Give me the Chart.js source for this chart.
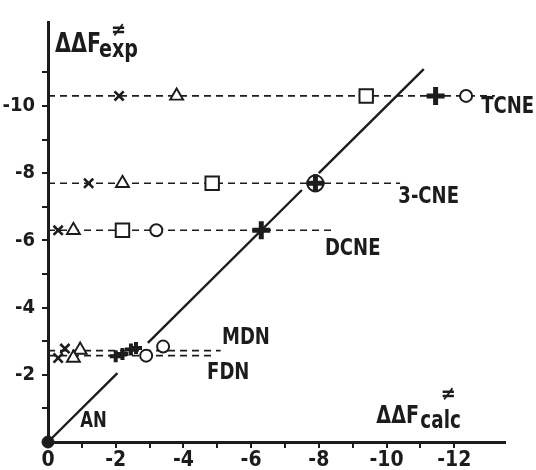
<!DOCTYPE html>
<html>
<head>
<meta charset="utf-8">
<script src="https://cdn.jsdelivr.net/npm/chart.js@4/dist/chart.umd.min.js"></script>
<style>
  html, body { margin: 0; padding: 0; background: #fff; }
  #wrap { width: 536px; height: 470px; }
</style>
</head>
<body>
<div id="wrap"><canvas id="chart" width="536" height="470"></canvas></div>
<script>
// Rows (acceptor molecules) and the level of their dashed line
const rowNames = ['TCNE', '3-CNE', 'DCNE', 'MDN', 'FDN'];
const rowExp = [-10.3, -7.7, -6.3, -2.72, -2.57];
const rowLineEnd = [-13.2, -10.4, -8.4, -5.1, -4.9];

// Calculated values per method (x = calc, y = exp)
const crossPts = [[-2.1, -10.3], [-1.2, -7.7], [-0.3, -6.3], [-0.5, -2.78], [-0.3, -2.5]];
const trianglePts = [[-3.8, -10.3], [-2.2, -7.7], [-0.75, -6.3], [-0.95, -2.74], [-0.75, -2.5]];
const squarePts = [[-9.4, -10.3], [-4.85, -7.7], [-2.2, -6.3]];
const circlePts = [[-12.35, -10.3], [-3.2, -6.3], [-3.4, -2.84], [-2.9, -2.57]];
const plusPts = [[-11.45, -10.3], [-7.9, -7.7], [-6.3, -6.3]];
const plusClusterPts = [[-2.0, -2.55], [-2.2, -2.62], [-2.45, -2.75], [-2.6, -2.8]];
const ringPts = [[-7.9, -7.7]];
const originPt = [[0, 0]];

// Diagonal y = x, broken where it passes markers
const diagBreaks = [0, -2.05, -2.95, -7.5, -8.0, -11.1];

// Axis ticks
const xTickLabels = [0, -2, -4, -6, -8, -10, -12];
const yTickLabels = [-2, -4, -6, -8, -10];

// Text labels next to rows (data coordinates)
const labelX = [-12.8, -10.35, -8.18, -5.14, -4.7];
const labelY = [-9.97, -7.28, -5.73, -3.1, -2.06];

const INK = '#1c1c1c';
const FONT = '"DejaVu Sans Condensed", "DejaVu Sans", sans-serif';

const toXY = arr => arr.map(([x, y]) => ({ x, y }));

const datasets = [];

// Dashed guide lines for each row
rowNames.forEach((name, i) => {
    datasets.push({
        label: name,
        data: [{ x: 0, y: rowExp[i] }, { x: rowLineEnd[i], y: rowExp[i] }],
        showLine: true,
        borderColor: INK,
        borderWidth: 1.6,
        borderDash: [7, 5],
        pointRadius: 0,
        order: 10
    });
});

// Diagonal segments
for (let i = 0; i < diagBreaks.length; i += 2) {
    datasets.push({
        label: 'diag',
        data: [{ x: diagBreaks[i], y: diagBreaks[i] }, { x: diagBreaks[i + 1], y: diagBreaks[i + 1] }],
        showLine: true,
        borderColor: INK,
        borderWidth: 2.4,
        pointRadius: 0,
        order: 9
    });
}

function marks(data, style, radius, width, fill, order) {
    return {
        data: toXY(data),
        showLine: false,
        pointStyle: style,
        pointRadius: radius,
        pointHoverRadius: radius,
        pointBorderWidth: width,
        pointBorderColor: INK,
        pointBackgroundColor: fill,
        order: order
    };
}

datasets.push(marks(crossPts, 'crossRot', 6.5, 2.6, '#fff', 3));
datasets.push(marks(trianglePts, 'triangle', 7.5, 1.9, '#fff', 3));
datasets.push(marks(squarePts, 'rect', 9.5, 2, '#fff', 3));
datasets.push(marks(circlePts, 'circle', 6, 2, '#fff', 3));
datasets.push(marks(ringPts, 'circle', 8, 2, '#fff', 2));
datasets.push(marks(plusPts, 'cross', 9, 5, INK, 1));
datasets.push(marks(plusClusterPts, 'cross', 6, 4, INK, 1));
datasets.push(marks(originPt, 'circle', 6, 1, INK, 1));

// narrow hand-lettered look: squeeze the text horizontally
function narrowText(ctx, text, px, py, size, sx) {
    ctx.save();
    ctx.font = 'bold ' + size + 'px ' + FONT;
    ctx.translate(px, py);
    ctx.scale(sx, 1);
    ctx.fillText(text, 0, 0);
    ctx.restore();
}

const textPlugin = {
    id: 'texts',
    afterDatasetsDraw(chart) {
        const { ctx, scales: { x, y } } = chart;
        ctx.save();
        ctx.fillStyle = INK;
        ctx.textAlign = 'left';
        ctx.textBaseline = 'middle';
        rowNames.forEach((t, i) => {
            narrowText(ctx, t, x.getPixelForValue(labelX[i]), y.getPixelForValue(labelY[i]), 23, 0.87);
        });
        narrowText(ctx, 'AN', x.getPixelForValue(-0.95), y.getPixelForValue(-0.6), 21, 0.87);

        // y axis title
        ctx.textBaseline = 'alphabetic';
        narrowText(ctx, 'ΔΔF', x.left + 7, y.top + 30, 27, 0.85);
        narrowText(ctx, 'exp', x.left + 51, y.top + 35, 25, 0.85);
        narrowText(ctx, '≠', x.left + 63, y.top + 14, 20, 1);

        // x axis title
        narrowText(ctx, 'ΔΔF', x.getPixelForValue(-9.7), y.bottom - 19, 25, 0.85);
        narrowText(ctx, 'calc', x.getPixelForValue(-11.0), y.bottom - 14, 24, 0.85);
        narrowText(ctx, '≠', x.getPixelForValue(-11.6), y.bottom - 42, 20, 1);
        ctx.restore();
    }
};

const axisCommon = {
    type: 'linear',
    reverse: true,
    border: { display: true, color: INK, width: 3 },
    grid: { drawOnChartArea: false, drawTicks: true, tickLength: 6, color: INK, lineWidth: 2 },
    afterBuildTicks: axis => {
        axis.ticks = axis.ticks.filter(t => Number.isInteger(t.value));
    }
};

new Chart(document.getElementById('chart'), {
    type: 'scatter',
    data: { datasets },
    options: {
        responsive: false,
        animation: false,
        clip: false,
        layout: { padding: { top: 22, right: 31, left: 0, bottom: 0 } },
        plugins: { legend: { display: false }, tooltip: { enabled: false } },
        scales: {
            x: {
                ...axisCommon,
                min: -13.5,
                max: 0,
                ticks: {
                    stepSize: 1,
                    autoSkip: false,
                    maxRotation: 0,
                    padding: 0,
                    color: INK,
                    font: { family: FONT, size: 21, weight: 'bold' },
                    callback: v => xTickLabels.includes(v) ? String(v) : ''
                },
                afterFit: s => { s.height = 28; }
            },
            y: {
                ...axisCommon,
                min: -12.5,
                max: 0,
                ticks: {
                    stepSize: 1,
                    autoSkip: false,
                    padding: 7,
                    color: INK,
                    font: { family: FONT, size: 20, weight: 'bold' },
                    callback: v => yTickLabels.includes(v) ? String(v) : ''
                },
                afterFit: s => { s.width = 48; }
            }
        }
    },
    plugins: [textPlugin]
});
</script>
</body>
</html>
